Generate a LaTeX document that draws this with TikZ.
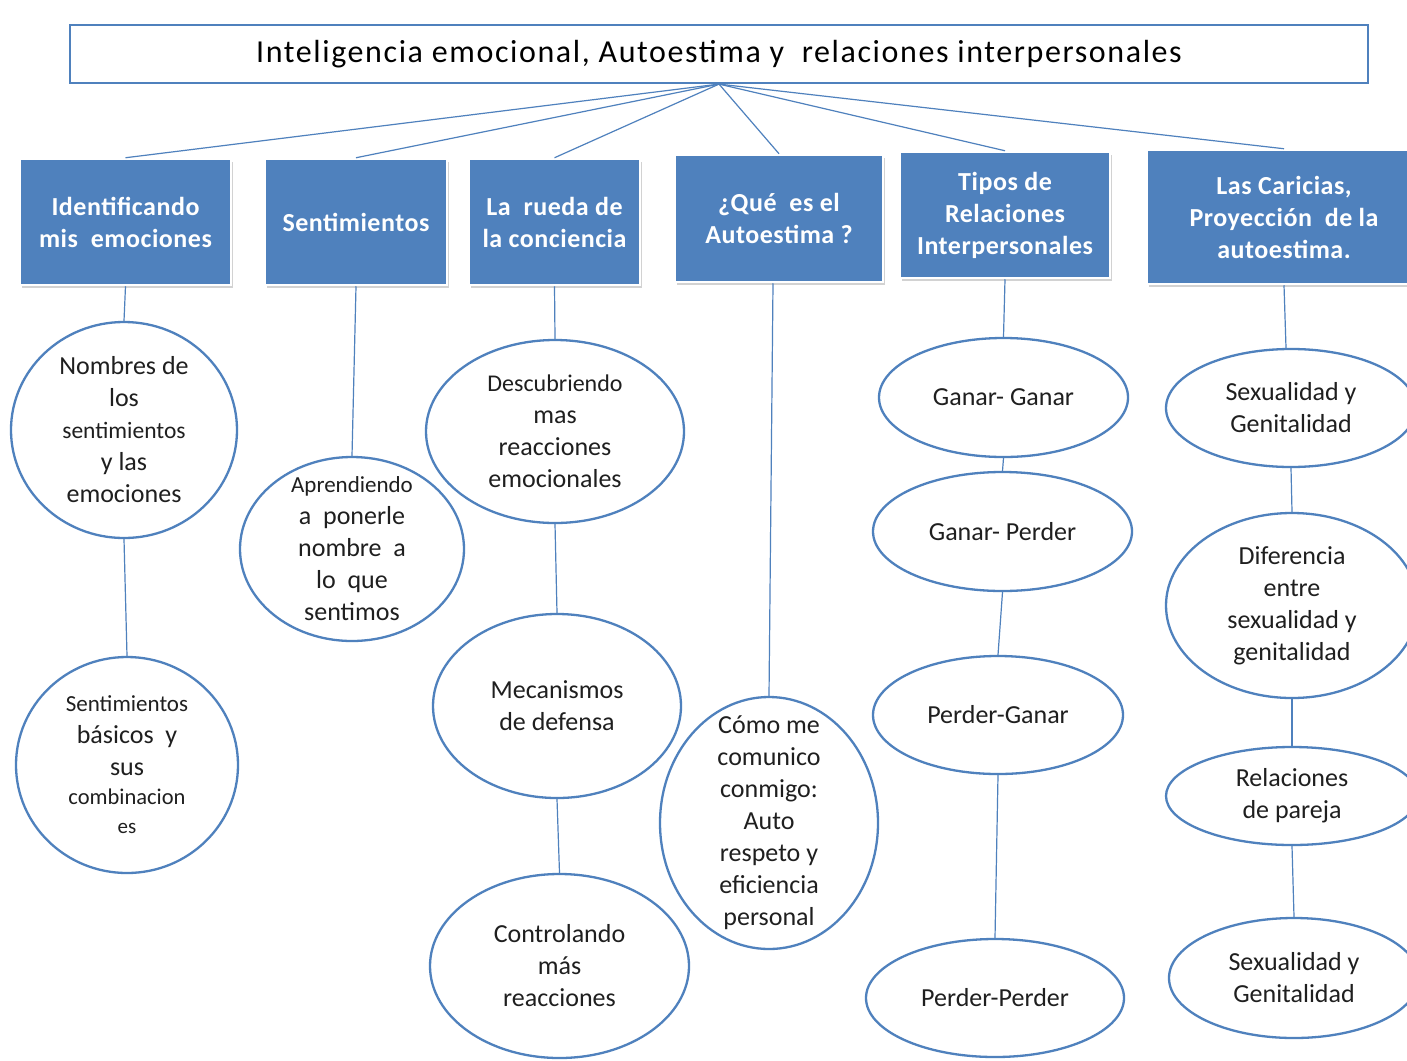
\documentclass[tikz,border=0pt]{standalone}
\usepackage{fontspec}
\setmainfont{Carlito}
\usetikzlibrary{shapes.geometric,shadows}
\definecolor{blu}{HTML}{4F81BD}
\newcommand{\fsz}[1]{\fontsize{#1}{32}\selectfont}
\begin{document}
\begin{tikzpicture}[x=1pt,y=-1pt,
  topic/.style={rectangle, fill=blu, draw=white, line width=2.5pt, text=white,
    font=\fsz{26}\bfseries\addfontfeature{LetterSpace=2}, align=center, inner sep=0pt,
    drop shadow={shadow xshift=1.5pt,shadow yshift=-2.5pt,opacity=0.35}},
  ell/.style={ellipse, draw=blu, line width=2.3pt, fill=white, inner sep=0pt},
  etext/.style={align=center, font=\fsz{26}, text=black!88, inner sep=0pt},
  link/.style={draw=blu, line width=1.2pt}]
\useasboundingbox (0,0) rectangle (1407,1060);
\fill[white] (0,0) rectangle (1407,1060);
\clip (0,0) rectangle (1407,1060);

% title
\node[draw=blu, line width=2.2pt, minimum width=1298pt, minimum height=58pt,
  inner sep=0pt, font=\fsz{32}\addfontfeature{LetterSpace=5}] (title) at (719,54)
  {Inteligencia emocional, Autoestima y\ \ relaciones interpersonales};
\coordinate (hub) at (title.south);

% topic boxes
\node[topic, minimum width=211pt, minimum height=126pt] (b1) at (125.5,222) {Identificando\\mis\ \ emociones};
\node[topic, minimum width=182pt, minimum height=126pt] (b2) at (356,222) {Sentimientos};
\node[topic, minimum width=171pt, minimum height=126pt] (b3) at (554.5,222) {La\ \ rueda de\\la conciencia};
\node[topic, minimum width=208pt, minimum height=127pt] (b4) at (779,218.5) {¿Qué\ \ es el\\Autoestima ?};
\node[topic, minimum width=210pt, minimum height=126pt] (b5) at (1005,215) {Tipos de\\Relaciones\\Interpersonales};
\node[topic, minimum width=274pt, minimum height=134pt] (b6) at (1284,217) {Las Caricias,\\Proyección\ \ de la\\autoestima.};

% hub links
\foreach \b in {b1,b2,b3,b4,b5,b6}
  \draw[link] (hub) -- (\b.north);

% ellipses column 1
\node[ell, minimum width=226pt, minimum height=216pt] (e1a) at (124,430) {};
\node[etext] (t1a) at (e1a) {Nombres de\\los\\{\fsz{23.5}sentimientos}\\y las\\emociones};
\node[ell, minimum width=222pt, minimum height=216pt] (e1b) at (127,765) {};
\node[etext] (t1b) at (e1b) {{\fsz{23}Sentimientos}\\básicos\ \ y\\sus\\[-3pt]{\fsz{22.5}combinacion}\\[-3pt]{\fsz{21}es}};

% column 2
\node[ell, minimum width=224pt, minimum height=184pt] (e2) at (352,549) {};
\node[etext] (t2) at (e2) {{\fsz{23}Aprendiendo}\\a\ \ ponerle\\nombre\ \ a\\lo\ \ que\\sentimos};

% column 3
\node[ell, minimum width=258pt, minimum height=183pt] (e3a) at (555,431.5) {};
\node[etext] (t3a) at (e3a) {{\fsz{24}Descubriendo}\\mas\\reacciones\\emocionales};
\node[ell, minimum width=248pt, minimum height=184pt] (e3b) at (557,706) {};
\node[etext] (t3b) at (e3b) {Mecanismos\\de defensa};
\node[ell, minimum width=259pt, minimum height=184pt] (e3c) at (559.5,966) {};
\node[etext] (t3c) at (e3c) {Controlando\\más\\reacciones};

% column 4
\node[ell, minimum width=218pt, minimum height=252pt] (e4) at (769,823) {};
\node[etext] (t4) at (e4) {Cómo me\\comunico\\conmigo:\\Auto\\respeto y\\eficiencia\\personal};

% column 5
\node[ell, minimum width=249pt, minimum height=119pt] (e5a) at (1003.5,397.5) {};
\node[etext] (t5a) at (e5a) {Ganar- Ganar};
\node[ell, minimum width=259pt, minimum height=119pt] (e5b) at (1002.5,531.5) {};
\node[etext] (t5b) at (e5b) {Ganar- Perder};
\node[ell, minimum width=250pt, minimum height=118pt] (e5c) at (998,715) {};
\node[etext] (t5c) at (e5c) {Perder-Ganar};
\node[ell, minimum width=258pt, minimum height=118pt] (e5d) at (995,998) {};
\node[etext] (t5d) at (e5d) {Perder-Perder};

% column 6
\node[ell, minimum width=250pt, minimum height=118pt] (e6a) at (1291,408) {};
\node[etext] (t6a) at (e6a) {Sexualidad y\\Genitalidad};
\node[ell, minimum width=252pt, minimum height=185pt] (e6b) at (1292,605.5) {};
\node[etext] (t6b) at (e6b) {Diferencia\\entre\\sexualidad y\\genitalidad};
\node[ell, minimum width=252pt, minimum height=98pt] (e6c) at (1292,796) {};
\node[etext] (t6c) at (e6c) {Relaciones\\de pareja};
\node[ell, minimum width=250pt, minimum height=120pt] (e6d) at (1294,978) {};
\node[etext] (t6d) at (e6d) {Sexualidad y\\Genitalidad};

% vertical links
\draw[link] (b1.south) -- (e1a.north);
\draw[link] (e1a.south) -- (e1b.north);
\draw[link] (b2.south) -- (e2.north);
\draw[link] (b3.south) -- (e3a.north);
\draw[link] (e3a.south) -- (e3b.north);
\draw[link] (e3b.south) -- (e3c.north);
\draw[link] ([xshift=-6pt]b4.south) -- (e4.north);
\draw[link] (b5.south) -- (e5a.north);
\draw[link] (e5a.south) -- (e5b.north);
\draw[link] (e5b.south) -- (e5c.north);
\draw[link] (e5c.south) -- (e5d.north);
\draw[link] (b6.south) -- ([xshift=-5pt]e6a.north);
\draw[link] (e6a.south) -- (e6b.north);
\draw[link] (e6b.south) -- (e6c.north);
\draw[link] (e6c.south) -- (e6d.north);
\end{tikzpicture}
\end{document}
